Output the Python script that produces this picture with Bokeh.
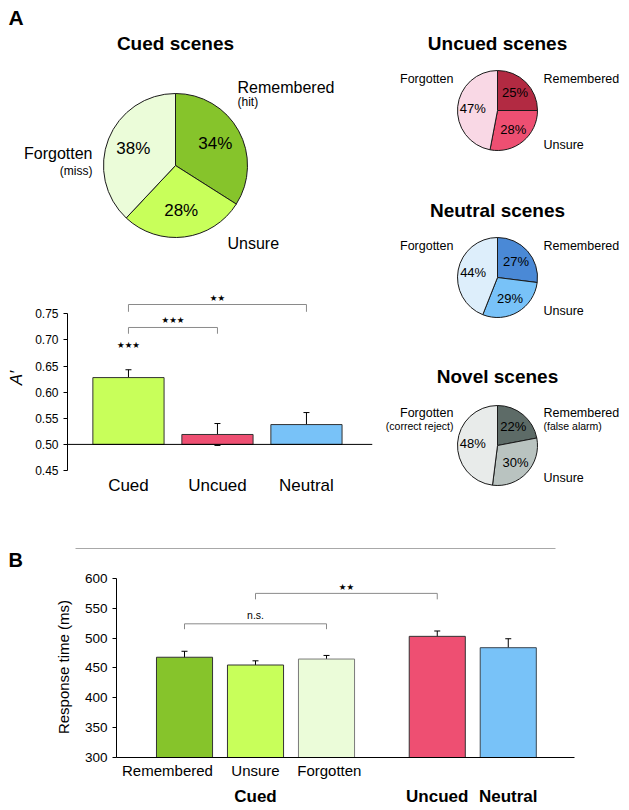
import math
from bokeh.plotting import figure
from bokeh.models import (Range1d, FixedTicker, Whisker, ColumnDataSource, Span,
                          LinearAxis, TeeHead, NumeralTickFormatter)
from bokeh.layouts import column, row
from bokeh.embed import file_html
from bokeh.resources import INLINE
from bokeh.core.properties import value

FONT = "Liberation Sans"
STAR_FONT = "DejaVu Sans"

# ---------------- data ----------------
slice_names = ["Remembered", "Unsure", "Forgotten"]
cued_pct = [34, 28, 38]
uncued_pct = [25, 28, 47]
neutral_pct = [27, 29, 44]
novel_pct = [22, 30, 48]

cued_colors = ["#86c42b", "#c8ff5a", "#ebfcd9"]
uncued_colors = ["#b22a42", "#ee4f72", "#f9d8e5"]
neutral_colors = ["#4a89d6", "#78c2f8", "#ddeefb"]
novel_colors = ["#5d6b67", "#b9c3c0", "#e8ebea"]

aprime_cats = ["Cued", "Uncued", "Neutral"]
aprime_vals = [0.628, 0.519, 0.538]
aprime_err = [0.015, 0.021, 0.023]
aprime_colors = ["#c8ff5a", "#ee4f72", "#78c2f8"]
aprime_ticks = [0.45, 0.50, 0.55, 0.60, 0.65, 0.70, 0.75]

rt_labels = ["Remembered", "Unsure", "Forgotten"]
rt_groups = ["Cued", "Uncued", "Neutral"]
rt_vals = [468, 455, 465, 503, 484]
rt_err = [10, 7, 6, 9, 15]
rt_colors = ["#86c42b", "#c8ff5a", "#ebfcd9", "#ee4f72", "#78c2f8"]
rt_ticks = [300, 350, 400, 450, 500, 550, 600]

# ---------------- helpers ----------------
def pix_fig(x0, y0, w, h):
    p = figure(width=w, height=h, x_range=Range1d(x0, x0 + w), y_range=Range1d(-(y0 + h), -y0),
               x_axis_location=None, y_axis_location=None, toolbar_location=None,
               output_backend="svg", min_border=0)
    p.outline_line_color = None
    p.xgrid.visible = False
    p.ygrid.visible = False
    return p


def txt(p, x, y, s, size, align="center", style="normal", font=FONT, baseline="middle"):
    p.text(x=[x], y=[-y], text=[s], text_font=value(font), text_font_size=size,
           text_align=align, text_baseline=baseline, text_font_style=style,
           text_color="#000000")


def draw_pie(p, cx, cy, r, pcts, colors, pct_size, frac):
    total = float(sum(pcts))
    starts, ends, lx, ly, lab = [], [], [], [], []
    cum = 0.0
    for v in pcts:
        a0 = math.pi / 2 - 2 * math.pi * cum / total
        a1 = math.pi / 2 - 2 * math.pi * (cum + v) / total
        starts.append(a0)
        ends.append(a1)
        mid = 0.5 * (a0 + a1)
        lx.append(cx + frac * r * math.cos(mid))
        ly.append(-cy + frac * r * math.sin(mid))
        lab.append(f"{v}%")
        cum += v
    src = ColumnDataSource(dict(sa=starts, ea=ends, c=colors))
    p.wedge(x=cx, y=-cy, radius=r, start_angle="sa", end_angle="ea", direction="clock",
            fill_color="c", line_color="#1a1a1a", line_width=1, source=src)
    p.text(x=lx, y=ly, text=lab, text_font=value(FONT), text_font_size=pct_size,
           text_align="center", text_baseline="middle", text_color="#000000")


# ---------------- Cued pie (with panel letter A) ----------------
cued = pix_fig(0, 0, 380, 255)
txt(cued, 8, 17, "A", "21px", align="left", style="bold")
txt(cued, 175, 43, "Cued scenes", "19px", style="bold")
draw_pie(cued, 175, 165, 72, cued_pct, cued_colors, "17px", 0.63)
txt(cued, 237, 87, slice_names[0], "16px", align="left")
txt(cued, 237, 101, "(hit)", "12px", align="left")
txt(cued, 92, 153, slice_names[2], "16px", align="right")
txt(cued, 92, 170, "(miss)", "12px", align="right")
txt(cued, 227, 243, slice_names[1], "16px", align="left")

# ---------------- A' bar chart ----------------
ap_x = [1, 2, 3]
ap = figure(width=380, height=254, x_range=Range1d(0.315, 3.742), y_range=Range1d(0.45, 0.8044),
            toolbar_location=None, output_backend="svg",
            min_border_left=67, min_border_right=8, min_border_top=30, min_border_bottom=39)
ap.outline_line_color = None
ap.xgrid.visible = False
ap.ygrid.visible = False
ap.vbar(x=ap_x, top=aprime_vals, bottom=0.5, width=0.8, fill_color=aprime_colors,
        line_color="#333333", line_width=1)
ap.add_layout(Span(location=0.5, dimension="width", line_color="#000000", line_width=1))
ap_src = ColumnDataSource(dict(x=ap_x,
                               upper=[v + e for v, e in zip(aprime_vals, aprime_err)],
                               lower=[v - e for v, e in zip(aprime_vals, aprime_err)]))
ap.add_layout(Whisker(base="x", upper="upper", lower="lower", source=ap_src,
                      line_color="#000000", line_width=1,
                      upper_head=TeeHead(size=6, line_color="#000000", line_width=1),
                      lower_head=TeeHead(size=6, line_color="#000000", line_width=1)))
# significance brackets
ap.multi_line(xs=[[1, 1, 2, 2], [1, 1, 3, 3]],
              ys=[[0.712, 0.724, 0.724, 0.712], [0.754, 0.768, 0.768, 0.754]],
              line_color="#8a8a8a", line_width=1)
ap.text(x=[1.5, 2, 1], y=[0.738, 0.781, 0.690], text=["★★★", "★★", "★★★"],
        text_font=value(STAR_FONT), text_font_size="8.5px", text_align="center",
        text_baseline="middle", text_color="#000000")
ap.xaxis.ticker = FixedTicker(ticks=ap_x)
ap.xaxis.major_label_overrides = {x: c for x, c in zip(ap_x, aprime_cats)}
ap.xaxis.axis_line_color = None
ap.xaxis.major_tick_line_color = None
ap.xaxis.minor_tick_line_color = None
ap.xaxis.major_tick_out = 0
ap.xaxis.major_label_standoff = 5
ap.xaxis.major_label_text_font = FONT
ap.xaxis.major_label_text_font_size = "17px"
ap.xaxis.major_label_text_color = "#000000"
ap.yaxis.ticker = FixedTicker(ticks=aprime_ticks)
ap.yaxis.formatter = NumeralTickFormatter(format="0.00")
ap.yaxis.bounds = (0.45, 0.75)
ap.yaxis.axis_label = "A′"
ap.yaxis.axis_label_text_font = FONT
ap.yaxis.axis_label_text_font_style = "italic"
ap.yaxis.axis_label_text_font_size = "17px"
ap.yaxis.axis_label_text_color = "#000000"
ap.yaxis.axis_label_standoff = 6
ap.yaxis.major_label_text_font = FONT
ap.yaxis.major_label_text_font_size = "12px"
ap.yaxis.major_label_text_color = "#000000"
ap.yaxis.major_tick_out = 4
ap.yaxis.major_tick_in = 0
ap.yaxis.minor_tick_line_color = None
ap.yaxis.axis_line_color = "#000000"
ap.yaxis.major_tick_line_color = "#000000"

# ---------------- small pies ----------------
def small_pie(top, title, pcts, colors, cy, ty, ly_top, ly_bot, sub_left=None, sub_right=None):
    p = pix_fig(380, top, 248, 170)
    txt(p, 497, ty, title, "19px", style="bold")
    draw_pie(p, 497, cy, 40, pcts, colors, "13px", 0.62)
    txt(p, 453, ly_top, slice_names[2], "12.5px", align="right")
    txt(p, 543, ly_top, slice_names[0], "12.5px", align="left")
    txt(p, 543, ly_bot, slice_names[1], "12.5px", align="left")
    if sub_left:
        txt(p, 453, ly_top + 13, sub_left, "10.5px", align="right")
    if sub_right:
        txt(p, 543, ly_top + 13, sub_right, "10.5px", align="left")
    return p

unc = small_pie(0, "Uncued scenes", uncued_pct, uncued_colors, 110, 43, 78, 144)
neu = small_pie(170, "Neutral scenes", neutral_pct, neutral_colors, 277, 210, 245, 310)
nov = small_pie(340, "Novel scenes", novel_pct, novel_colors, 445, 376, 412, 477,
                sub_left="(correct reject)", sub_right="(false alarm)")

# ---------------- separator + letter B ----------------
sep = pix_fig(0, 510, 628, 60)
sep.segment(x0=[75], y0=[-548], x1=[555], y1=[-548], line_color="#a8a8a8", line_width=1)
txt(sep, 8, 559, "B", "20px", align="left", style="bold")

# ---------------- B: response time ----------------
rt_x = [1, 2, 3, 4.56, 5.56]
lab_x = [0.76, 2, 3.04]
grp_x = [2, 4.56, 5.56]
b = figure(width=628, height=238, x_range=Range1d(0.042, 6.493), y_range=Range1d(300, 603.3),
           toolbar_location=None, output_backend="svg",
           min_border_left=116, min_border_right=54, min_border_top=6, min_border_bottom=49)
b.outline_line_color = None
b.xgrid.visible = False
b.ygrid.visible = False
b.vbar(x=rt_x, top=rt_vals, bottom=300, width=0.79, fill_color=rt_colors,
       line_color=["#333333", "#333333", "#7a7a7a", "#333333", "#3a4650"], line_width=1)
b_src = ColumnDataSource(dict(x=rt_x,
                              upper=[v + e for v, e in zip(rt_vals, rt_err)],
                              lower=[v - e for v, e in zip(rt_vals, rt_err)]))
b.add_layout(Whisker(base="x", upper="upper", lower="lower", source=b_src,
                     line_color="#000000", line_width=1,
                     upper_head=TeeHead(size=6, line_color="#000000", line_width=1),
                     lower_head=TeeHead(size=6, line_color="#000000", line_width=1)))
b.multi_line(xs=[[1, 1, 3, 3], [2, 2, 4.56, 4.56]],
             ys=[[515, 524, 524, 515], [565, 575, 575, 565]],
             line_color="#8a8a8a", line_width=1)
b.text(x=[2], y=[539], text=["n.s."], text_font=value(FONT), text_font_size="10.5px",
       text_align="center", text_baseline="middle", text_color="#000000")
b.text(x=[3.28], y=[585], text=["★★"], text_font=value(STAR_FONT), text_font_size="8.5px",
       text_align="center", text_baseline="middle", text_color="#000000")

b.xaxis.ticker = FixedTicker(ticks=lab_x)
b.xaxis.major_label_overrides = {x: c for x, c in zip(lab_x, rt_labels)}
b.xaxis.axis_line_color = "#000000"
b.xaxis.major_tick_line_color = None
b.xaxis.minor_tick_line_color = None
b.xaxis.major_tick_out = 0
b.xaxis.major_label_standoff = 4
b.xaxis.major_label_text_font = FONT
b.xaxis.major_label_text_font_size = "15px"
b.xaxis.major_label_text_color = "#000000"

gax = LinearAxis(ticker=FixedTicker(ticks=grp_x),
                 major_label_overrides={x: g for x, g in zip(grp_x, rt_groups)})
gax.axis_line_color = None
gax.major_tick_line_color = None
gax.minor_tick_line_color = None
gax.major_tick_out = 0
gax.major_label_standoff = 5
gax.major_label_text_font = FONT
gax.major_label_text_font_size = "17px"
gax.major_label_text_font_style = "bold"
gax.major_label_text_color = "#000000"
b.add_layout(gax, "below")

b.yaxis.ticker = FixedTicker(ticks=rt_ticks)
b.yaxis.bounds = (300, 600)
b.yaxis.axis_label = "Response time (ms)"
b.yaxis.axis_label_text_font = FONT
b.yaxis.axis_label_text_font_style = "normal"
b.yaxis.axis_label_text_font_size = "15px"
b.yaxis.axis_label_text_color = "#000000"
b.yaxis.axis_label_standoff = 10
b.yaxis.major_label_text_font = FONT
b.yaxis.major_label_text_font_size = "13.5px"
b.yaxis.major_label_text_color = "#000000"
b.yaxis.major_tick_out = 4
b.yaxis.major_tick_in = 0
b.yaxis.minor_tick_line_color = None
b.yaxis.axis_line_color = "#000000"

# each figure wrapped in its own row so frames are not aligned across figures
left_col = column(row(cued), row(ap))
right_col = column(row(unc), row(neu), row(nov))
layout = column(row(left_col, right_col), row(sep), row(b))

open("out.html", "w").write(file_html(layout, INLINE))
